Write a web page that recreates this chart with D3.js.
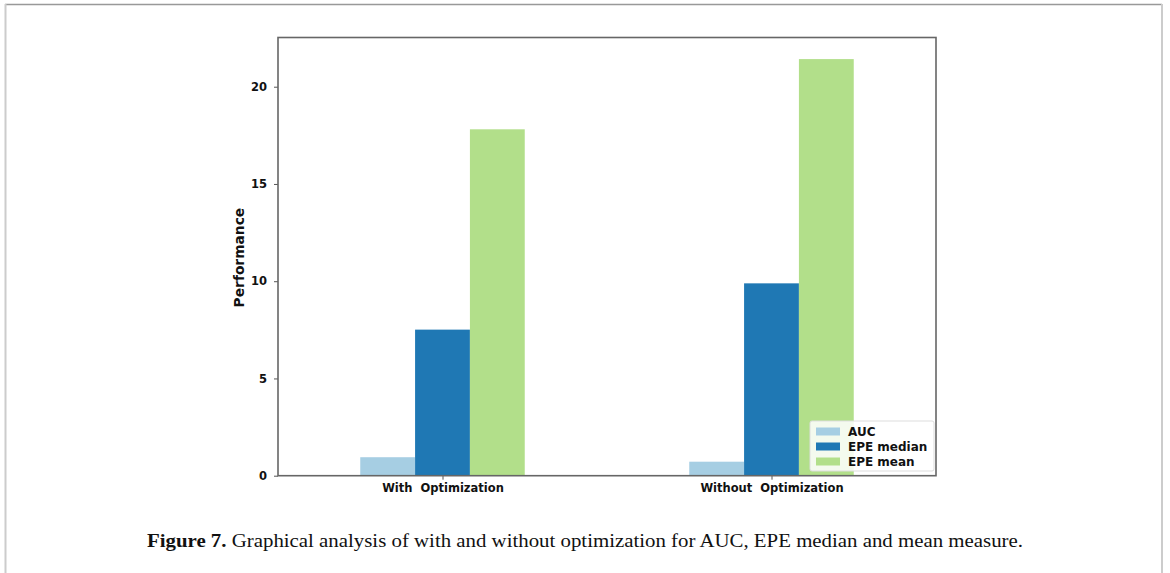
<!DOCTYPE html>
<html>
<head>
<meta charset="utf-8">
<script src="https://cdn.jsdelivr.net/npm/d3@7/dist/d3.min.js"></script>
<style>
  html, body { margin: 0; padding: 0; background: #fff; }
  svg { display: block; }
</style>
</head>
<body>
<svg id="chart" width="1170" height="573"></svg>
<script>
// Data
const groups = ["With  Optimization", "Without  Optimization"];
const seriesNames = ["AUC", "EPE median", "EPE mean"];
const seriesColors = ["#a6cee3", "#1f78b4", "#b2df8a"];
const aucValues = [0.95, 0.72];
const epeMedianValues = [7.51, 9.89];
const epeMeanValues = [17.81, 21.42];
const yTicks = [0, 5, 10, 15, 20];
const captionBold = "Figure 7.";
const captionText = " Graphical analysis of with and without optimization for AUC, EPE median and mean measure.";

const series = [aucValues, epeMedianValues, epeMeanValues];

const svg = d3.select("#chart");

// Page frame
svg.append("line").attr("x1", 5).attr("x2", 1162).attr("y1", 4.5).attr("y2", 4.5)
  .attr("stroke", "#999").attr("stroke-width", 1.5);
svg.append("line").attr("x1", 5.5).attr("x2", 5.5).attr("y1", 4).attr("y2", 573)
  .attr("stroke", "#ccc").attr("stroke-width", 2);
svg.append("line").attr("x1", 1162).attr("x2", 1162).attr("y1", 4).attr("y2", 573)
  .attr("stroke", "#ccc").attr("stroke-width", 2);

// Plot area
const plotLeft = 278, plotRight = 936, plotTop = 37.5, plotBottom = 475.7;
const x = d3.scaleLinear().domain([-0.5, 1.5]).range([plotLeft, plotRight]);
const y = d3.scaleLinear().domain([0, 22.53]).range([plotBottom, plotTop]);
const barW = 1 / 6;

const g = svg.append("g");

series.forEach((vals, si) => {
  g.selectAll(null).data(vals).enter().append("rect")
    .attr("x", (d, i) => x(i + (si - 1) * barW - barW / 2))
    .attr("width", x(barW) - x(0))
    .attr("y", d => y(d))
    .attr("height", d => y(0) - y(d))
    .attr("fill", seriesColors[si]);
});

// Axes
const yAxis = d3.axisLeft(y).tickValues(yTicks).tickSize(4).tickPadding(7).tickFormat(d3.format("d"));
const xAxis = d3.axisBottom(x).tickValues([0, 1]).tickSize(4).tickPadding(4).tickFormat(i => groups[i]);

const ya = svg.append("g").attr("transform", `translate(${plotLeft},0)`).call(yAxis);
const xa = svg.append("g").attr("transform", `translate(0,${plotBottom})`).call(xAxis);
[ya, xa].forEach(a => {
  a.select(".domain").remove();
  a.selectAll("line").attr("stroke", "#555").attr("stroke-width", 1);
  a.selectAll("text").attr("fill", "#111").attr("font-family", "DejaVu Sans, sans-serif")
    .attr("font-weight", "bold").attr("font-size", 11.5);
});
xa.selectAll("text").style("white-space", "pre").attr("xml:space", "preserve");

// Spines
svg.append("rect").attr("x", plotLeft).attr("y", plotTop)
  .attr("width", plotRight - plotLeft).attr("height", plotBottom - plotTop)
  .attr("fill", "none").attr("stroke", "#666").attr("stroke-width", 1.6);

// Y label
svg.append("text")
  .attr("transform", `translate(244,${(plotTop + plotBottom) / 2 + 1}) rotate(-90)`)
  .attr("text-anchor", "middle")
  .attr("font-family", "DejaVu Sans, sans-serif").attr("font-weight", "bold").attr("font-size", 13.8)
  .attr("fill", "#111")
  .text("Performance");

// Legend
const lg = svg.append("g").attr("transform", "translate(810,421)");
lg.append("rect").attr("width", 124).attr("height", 50).attr("rx", 2)
  .attr("fill", "#fff").attr("fill-opacity", 0.85).attr("stroke", "#ddd");
seriesNames.forEach((name, i) => {
  const yy = 10 + i * 15;
  lg.append("rect").attr("x", 6).attr("y", yy - 3.5).attr("width", 24).attr("height", 8).attr("fill", seriesColors[i]);
  lg.append("text").attr("x", 38).attr("y", yy + 4.5)
    .attr("font-family", "DejaVu Sans, sans-serif").attr("font-weight", "bold").attr("font-size", 12)
    .attr("fill", "#111").text(name);
});

// Caption
const cap = svg.append("text").attr("x", 147).attr("y", 547)
  .attr("font-family", "Liberation Serif, serif").attr("font-size", 18.5).attr("fill", "#111")
  .attr("textLength", 876).attr("lengthAdjust", "spacingAndGlyphs");
cap.append("tspan").attr("font-weight", "bold").text(captionBold);
cap.append("tspan").text(captionText);
</script>
</body>
</html>
